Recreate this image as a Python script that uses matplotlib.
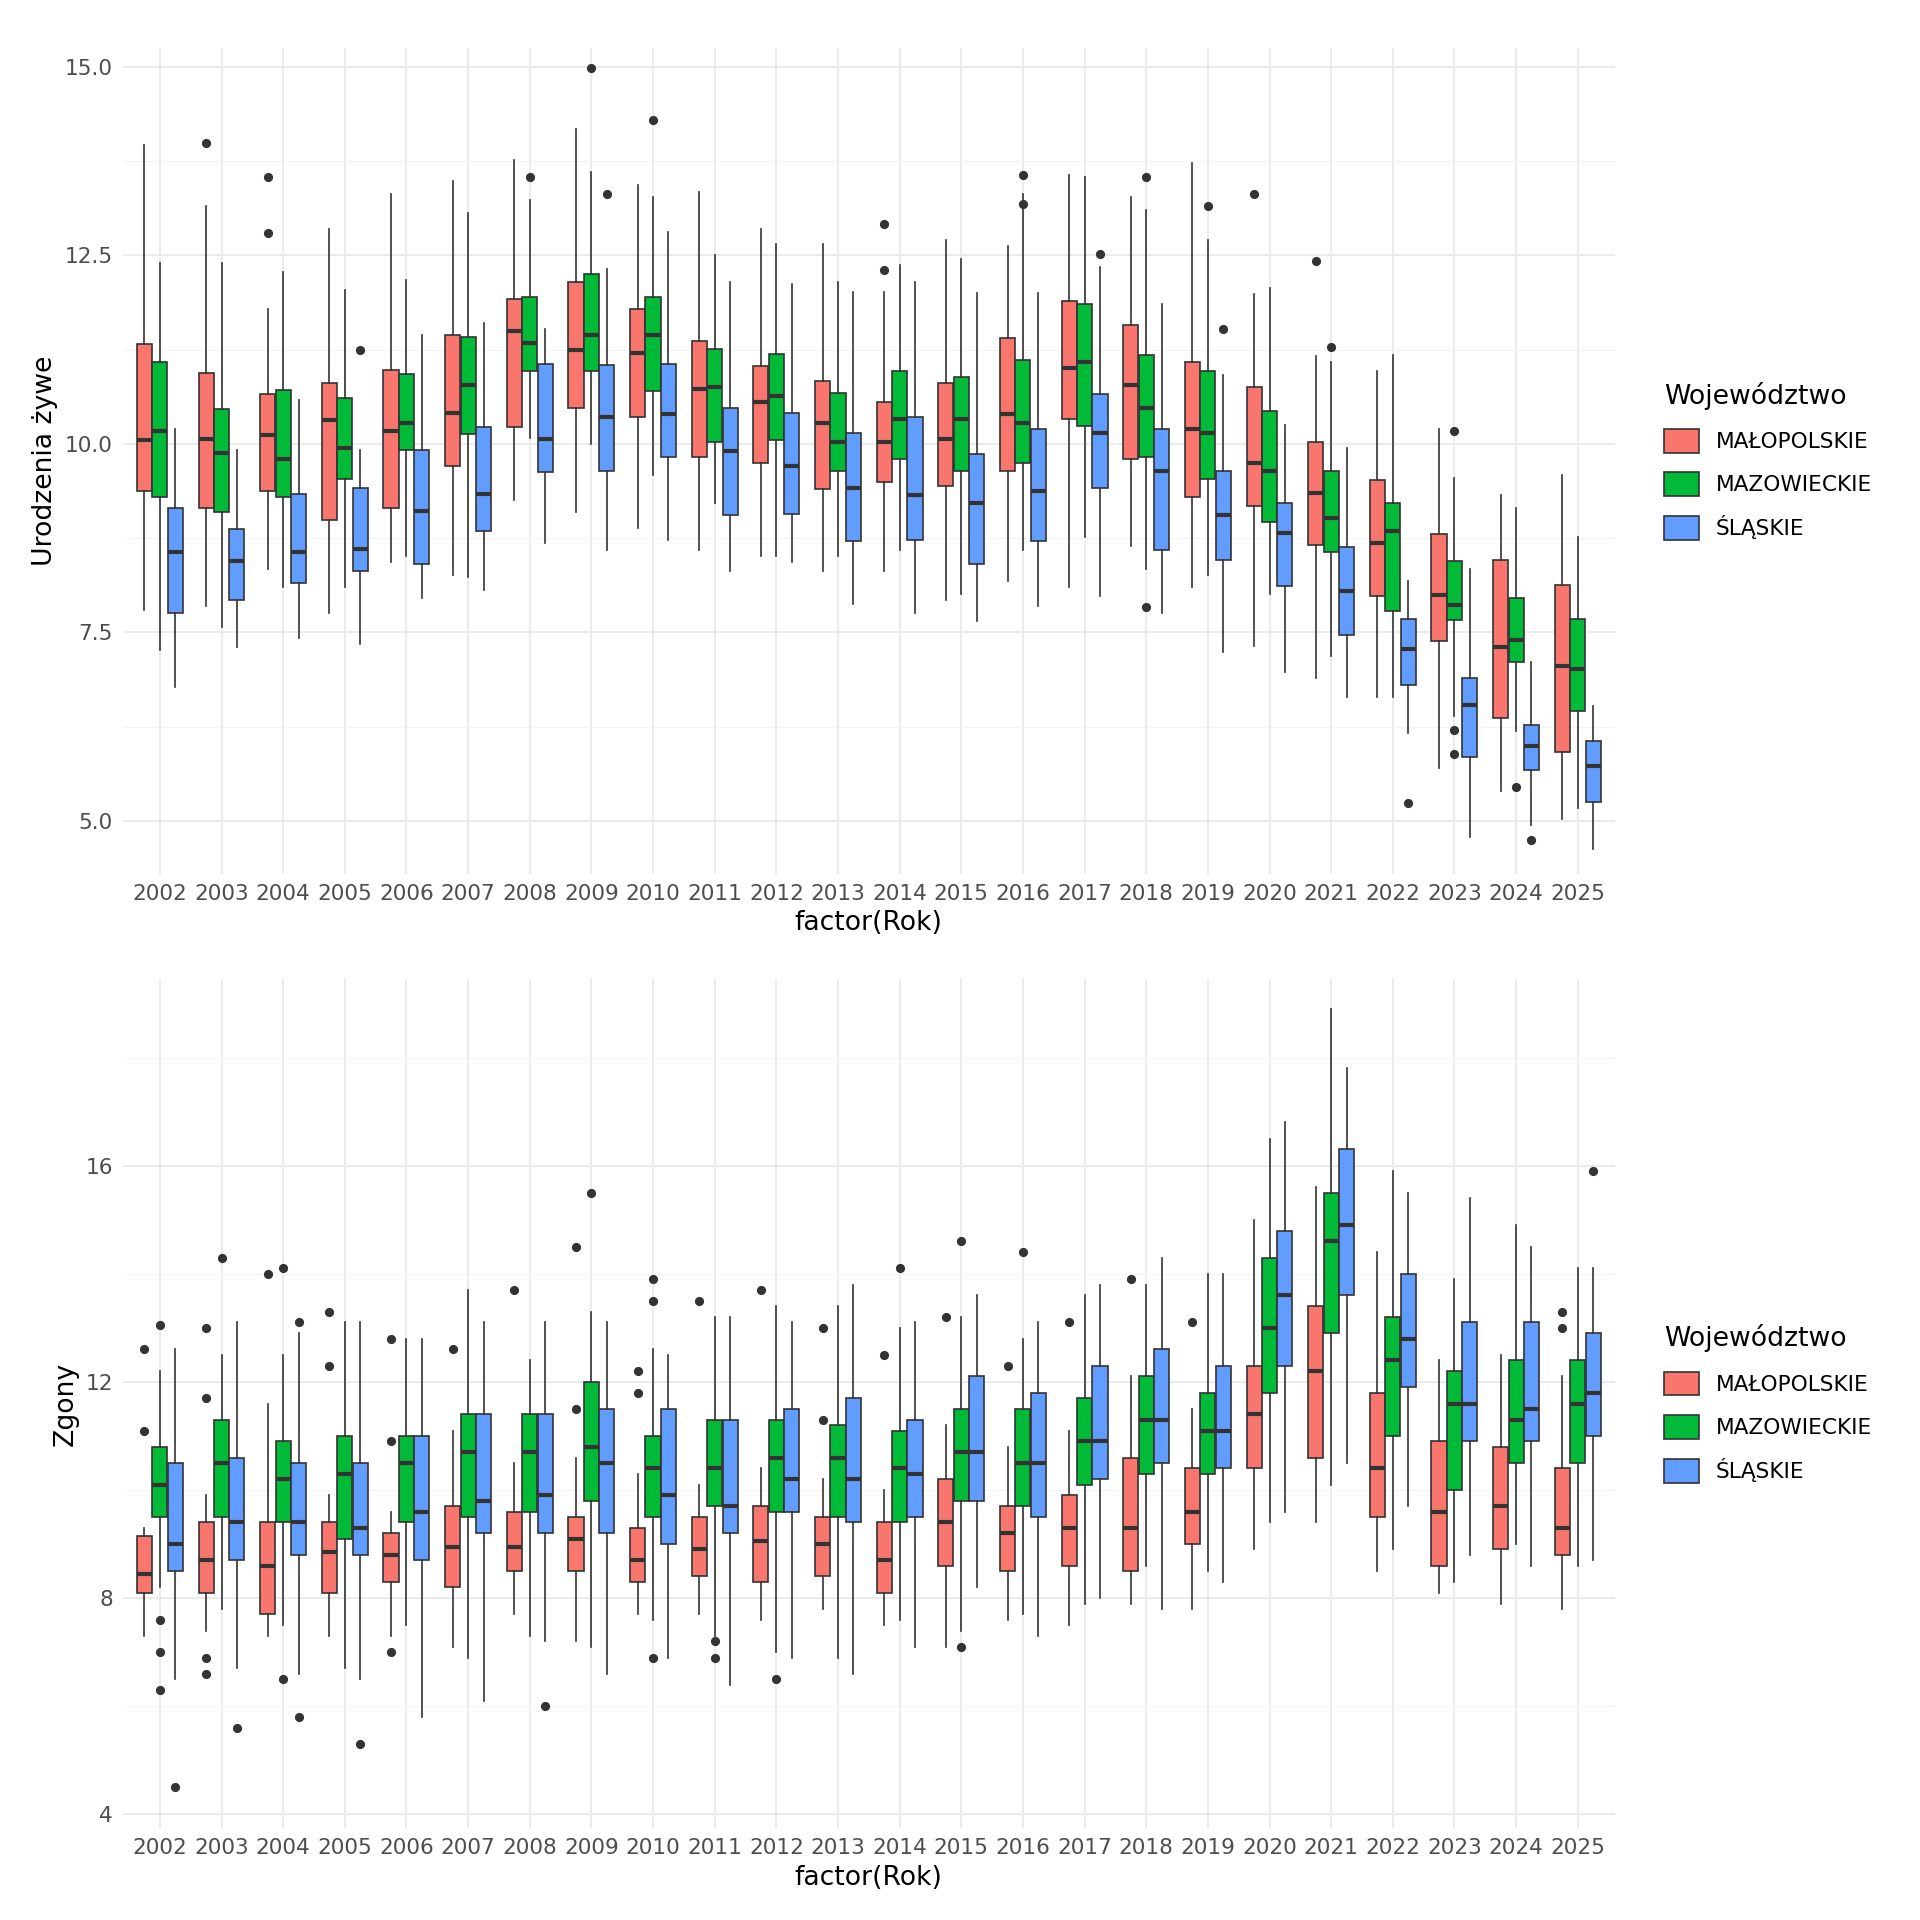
import matplotlib.pyplot as plt
from matplotlib.patches import Patch

years = list(range(2002, 2026))
groups = ['MAŁOPOLSKIE', 'MAZOWIECKIE', 'ŚLĄSKIE']
colors = ['#F8766D', '#00BA38', '#619CFF']

# (whislo, q1, med, q3, whishi) per year
urodz_mal = [(7.8, 9.37, 10.05, 11.32, 13.97), (7.85, 9.15, 10.07, 10.94, 13.15), (8.34, 9.37, 10.12, 10.66, 11.79),
             (7.76, 8.99, 10.31, 10.81, 12.85), (8.43, 9.15, 10.17, 10.98, 13.31), (8.26, 9.7, 10.41, 11.44, 13.48),
             (9.26, 10.22, 11.5, 11.92, 13.77), (9.09, 10.48, 11.24, 12.14, 14.17), (8.89, 10.36, 11.2, 11.79, 13.43),
             (8.59, 9.83, 10.73, 11.36, 13.34), (8.51, 9.74, 10.56, 11.03, 12.85), (8.31, 9.4, 10.27, 10.83, 12.65),
             (8.31, 9.49, 10.02, 10.56, 12.02), (7.93, 9.44, 10.07, 10.81, 12.7), (8.18, 9.64, 10.4, 11.41, 12.63),
             (8.1, 10.33, 11.0, 11.89, 13.56), (8.64, 9.8, 10.78, 11.57, 13.28), (8.1, 9.29, 10.2, 11.09, 13.72),
             (7.32, 9.17, 9.74, 10.76, 11.99), (6.9, 8.66, 9.35, 10.03, 11.16), (6.64, 7.98, 8.69, 9.52, 10.96),
             (5.7, 7.38, 8.0, 8.81, 10.2), (5.4, 6.36, 7.3, 8.46, 9.32), (5.03, 5.91, 7.05, 8.13, 9.59)]
urodz_maz = [(7.27, 9.29, 10.17, 11.08, 12.4), (7.57, 9.1, 9.88, 10.46, 12.4), (8.1, 9.29, 9.8, 10.71, 12.28),
             (8.1, 9.54, 9.95, 10.61, 12.04), (8.51, 9.92, 10.27, 10.93, 12.17), (8.23, 10.13, 10.78, 11.42, 13.06),
             (10.08, 10.96, 11.34, 11.95, 13.23), (10.0, 10.96, 11.44, 12.25, 13.61), (9.59, 10.7, 11.44, 11.95, 13.28),
             (9.22, 10.03, 10.76, 11.26, 12.5), (8.51, 10.05, 10.63, 11.19, 12.65), (8.51, 9.64, 10.03, 10.68, 12.14),
             (8.59, 9.8, 10.33, 10.96, 12.37), (8.01, 9.64, 10.33, 10.89, 12.45), (8.59, 9.74, 10.27, 11.11, 13.31),
             (8.76, 10.23, 11.08, 11.86, 13.54), (8.34, 9.83, 10.48, 11.18, 13.1), (8.26, 9.54, 10.15, 10.96, 12.7),
             (8.01, 8.96, 9.64, 10.43, 12.07), (7.19, 8.56, 9.01, 9.64, 11.08), (6.64, 7.78, 8.84, 9.21, 11.18),
             (6.39, 7.67, 7.86, 8.44, 9.55), (6.19, 7.1, 7.4, 7.95, 9.15), (5.17, 6.46, 7.02, 7.68, 8.77)]
urodz_sla = [(6.77, 7.75, 8.56, 9.15, 10.2), (7.3, 7.93, 8.44, 8.87, 9.92), (7.43, 8.15, 8.56, 9.34, 10.58),
             (7.35, 8.31, 8.61, 9.42, 9.92), (7.96, 8.41, 9.11, 9.92, 11.44), (8.06, 8.84, 9.34, 10.22, 11.6),
             (8.68, 9.62, 10.07, 11.06, 11.52), (8.59, 9.64, 10.35, 11.04, 12.32), (8.72, 9.83, 10.4, 11.06, 12.81),
             (8.31, 9.06, 9.9, 10.48, 12.15), (8.43, 9.07, 9.7, 10.41, 12.12), (7.88, 8.71, 9.42, 10.15, 12.02),
             (7.76, 8.73, 9.32, 10.36, 12.15), (7.65, 8.41, 9.22, 9.87, 12.0), (7.85, 8.71, 9.37, 10.2, 12.0),
             (7.98, 9.42, 10.15, 10.66, 12.35), (7.76, 8.59, 9.64, 10.2, 11.86), (7.24, 8.46, 9.06, 9.64, 10.91),
             (6.97, 8.11, 8.82, 9.21, 10.25), (6.64, 7.47, 8.05, 8.63, 9.95), (6.16, 6.8, 7.28, 7.68, 8.18),
             (4.78, 5.84, 6.54, 6.9, 8.34), (4.95, 5.68, 5.99, 6.27, 7.1), (4.62, 5.25, 5.73, 6.06, 6.52)]
urodz_fliers = {
    0: {2003: [13.99], 2004: [13.54, 12.8], 2014: [12.91, 12.3], 2020: [13.31], 2021: [12.43]},
    1: {2008: [13.54], 2009: [14.98], 2010: [14.3], 2016: [13.56, 13.18], 2018: [13.54, 7.83],
        2019: [13.16], 2021: [11.29], 2023: [10.17, 6.21, 5.89], 2024: [5.45]},
    2: {2005: [11.24], 2009: [13.31], 2017: [12.52], 2019: [11.52], 2022: [5.23], 2024: [4.75]},
}

zgony_mal = [(7.3, 8.1, 8.45, 9.15, 9.3), (7.4, 8.1, 8.7, 9.4, 9.9), (7.3, 7.7, 8.6, 9.4, 11.6),
             (7.3, 8.1, 8.85, 9.4, 9.9), (7.3, 8.3, 8.8, 9.2, 9.6), (7.1, 8.2, 8.95, 9.7, 11.1),
             (7.7, 8.5, 8.95, 9.6, 10.5), (7.2, 8.5, 9.1, 9.5, 10.6), (7.7, 8.3, 8.7, 9.3, 10.3),
             (7.7, 8.4, 8.9, 9.5, 10.1), (7.6, 8.3, 9.05, 9.7, 10.4), (7.8, 8.4, 9.0, 9.5, 10.2),
             (7.5, 8.1, 8.7, 9.4, 10.0), (7.1, 8.6, 9.4, 10.2, 11.2), (7.6, 8.5, 9.2, 9.7, 10.8),
             (7.5, 8.6, 9.3, 9.9, 11.1), (7.9, 8.5, 9.3, 10.6, 12.1), (7.8, 9.0, 9.6, 10.4, 11.5),
             (8.9, 10.4, 11.4, 12.3, 15.0), (9.4, 10.6, 12.2, 13.4, 15.6), (8.5, 9.5, 10.4, 11.8, 14.4),
             (8.1, 8.6, 9.6, 10.9, 12.4), (7.9, 8.9, 9.7, 10.8, 12.5), (7.8, 8.8, 9.3, 10.4, 12.1)]
zgony_maz = [(8.2, 9.5, 10.1, 10.8, 12.2), (7.8, 9.5, 10.5, 11.3, 12.5), (7.5, 9.4, 10.2, 10.9, 12.5),
             (6.7, 9.1, 10.3, 11.0, 13.1), (7.5, 9.4, 10.5, 11.0, 12.8), (6.9, 9.5, 10.7, 11.4, 13.7),
             (7.3, 9.6, 10.7, 11.4, 12.4), (7.1, 9.8, 10.8, 12.0, 13.3), (7.6, 9.5, 10.4, 11.0, 12.6),
             (7.3, 9.7, 10.4, 11.3, 13.2), (7.0, 9.6, 10.6, 11.3, 13.4), (6.9, 9.5, 10.6, 11.2, 13.4),
             (7.6, 9.4, 10.4, 11.1, 13.0), (7.4, 9.8, 10.7, 11.5, 13.2), (7.7, 9.7, 10.5, 11.5, 12.8),
             (7.9, 10.1, 10.9, 11.7, 13.6), (8.6, 10.3, 11.3, 12.1, 13.8), (8.5, 10.3, 11.1, 11.8, 14.0),
             (9.4, 11.8, 13.0, 14.3, 16.5), (10.1, 12.9, 14.6, 15.5, 18.9), (8.9, 11.0, 12.4, 13.2, 15.9),
             (8.3, 10.0, 11.6, 12.2, 13.9), (9.0, 10.5, 11.3, 12.4, 14.9), (8.6, 10.5, 11.6, 12.4, 14.1)]
zgony_sla = [(6.5, 8.5, 9.0, 10.5, 12.6), (6.7, 8.7, 9.4, 10.6, 13.1), (6.6, 8.8, 9.4, 10.5, 12.9),
             (6.5, 8.8, 9.3, 10.5, 13.1), (5.8, 8.7, 9.6, 11.0, 12.8), (6.1, 9.2, 9.8, 11.4, 13.1),
             (7.2, 9.2, 9.9, 11.4, 13.1), (6.6, 9.2, 10.5, 11.5, 13.1), (6.9, 9.0, 9.9, 11.5, 12.5),
             (6.4, 9.2, 9.7, 11.3, 13.2), (6.9, 9.6, 10.2, 11.5, 13.1), (6.6, 9.4, 10.2, 11.7, 13.8),
             (7.1, 9.5, 10.3, 11.3, 13.1), (8.2, 9.8, 10.7, 12.1, 13.6), (7.3, 9.5, 10.5, 11.8, 13.1),
             (8.0, 10.2, 10.9, 12.3, 13.8), (7.8, 10.5, 11.3, 12.6, 14.3), (8.3, 10.4, 11.1, 12.3, 14.0),
             (9.6, 12.3, 13.6, 14.8, 16.8), (10.5, 13.6, 14.9, 16.3, 17.8), (9.7, 11.9, 12.8, 14.0, 15.5),
             (8.8, 10.9, 11.6, 13.1, 15.4), (8.6, 10.9, 11.5, 13.1, 14.5), (8.7, 11.0, 11.8, 12.9, 14.1)]
zgony_fliers = {
    0: {2002: [12.6, 11.1], 2003: [13.0, 11.7, 6.9, 6.6], 2004: [14.0], 2005: [13.3, 12.3],
        2006: [12.8, 10.9, 7.0], 2007: [12.6], 2008: [13.7], 2009: [14.5, 11.5], 2010: [12.2, 11.8],
        2011: [13.5], 2012: [13.7], 2013: [13.0, 11.3], 2014: [12.5], 2015: [13.2], 2016: [12.3],
        2017: [13.1], 2018: [13.9], 2019: [13.1], 2025: [13.3, 13.0]},
    1: {2002: [13.05, 7.6, 7.0, 6.3], 2003: [14.3], 2004: [14.1, 6.5], 2009: [15.5],
        2010: [13.9, 13.5, 6.9], 2011: [7.2, 6.9], 2012: [6.5], 2014: [14.1], 2015: [14.6, 7.1], 2016: [14.4]},
    2: {2002: [4.5], 2003: [5.6], 2004: [13.1, 5.8], 2005: [5.3], 2008: [6.0], 2025: [15.9]},
}


def draw_panel(ax, series, fliers, ylabel, ylim, majors, minors):
    width = 0.25
    for g, stats in enumerate(series):
        offset = (g - 1) * width
        bxp_stats = []
        for i, (lo, q1, med, q3, hi) in enumerate(stats):
            bxp_stats.append(dict(whislo=lo, q1=q1, med=med, q3=q3, whishi=hi,
                                  fliers=fliers[g].get(years[i], [])))
        pos = [i + offset for i in range(len(years))]
        ax.bxp(bxp_stats, positions=pos, widths=width * 0.98, patch_artist=True,
               showcaps=False, manage_ticks=False,
               boxprops=dict(facecolor=colors[g], edgecolor='#333333', linewidth=1),
               whiskerprops=dict(color='#333333', linewidth=1),
               medianprops=dict(color='#333333', linewidth=2.5),
               flierprops=dict(marker='o', markerfacecolor='#333333', markeredgecolor='#333333',
                               markersize=4.5))
    ax.set_xlim(-0.6, len(years) - 0.4)
    ax.set_ylim(*ylim)
    ax.set_xticks(range(len(years)))
    ax.set_xticklabels([str(y) for y in years])
    ax.set_yticks(majors)
    ax.set_yticks(minors, minor=True)
    ax.set_xticks([i + 0.5 for i in range(len(years) - 1)], minor=False) if False else None
    ax.grid(True, which='major', color='#EBEBEB', linewidth=1.2)
    ax.grid(True, which='minor', axis='y', color='#F3F3F3', linewidth=0.7)
    ax.set_axisbelow(True)
    for s in ax.spines.values():
        s.set_visible(False)
    ax.tick_params(which='both', length=0, labelsize=13, colors='#4D4D4D', pad=6)
    ax.set_xlabel('factor(Rok)', fontsize=16, labelpad=4)
    ax.set_ylabel(ylabel, fontsize=16)
    handles = [Patch(facecolor=c, edgecolor='#333333', label=n) for c, n in zip(colors, groups)]
    leg = ax.legend(handles=handles, title='Województwo', loc='center left',
                    bbox_to_anchor=(1.02, 0.5), frameon=False, fontsize=13,
                    title_fontsize=16, handlelength=1.6, handleheight=1.3, labelspacing=0.9)
    leg._legend_box.align = 'left'


fig = plt.figure(figsize=(16, 16), dpi=120)
ax1 = fig.add_axes([0.064, 0.545, 0.777, 0.43])
ax2 = fig.add_axes([0.064, 0.048, 0.777, 0.442])

draw_panel(ax1, [urodz_mal, urodz_maz, urodz_sla], urodz_fliers, 'Urodzenia żywe',
           (4.3, 15.25), [5.0, 7.5, 10.0, 12.5, 15.0], [6.25, 8.75, 11.25, 13.75])
ax1.set_yticklabels(['5.0', '7.5', '10.0', '12.5', '15.0'])
draw_panel(ax2, [zgony_mal, zgony_maz, zgony_sla], zgony_fliers, 'Zgony',
           (3.75, 19.45), [4, 8, 12, 16], [6, 10, 14, 18])

fig.savefig('out.png', dpi=120, facecolor='white')
